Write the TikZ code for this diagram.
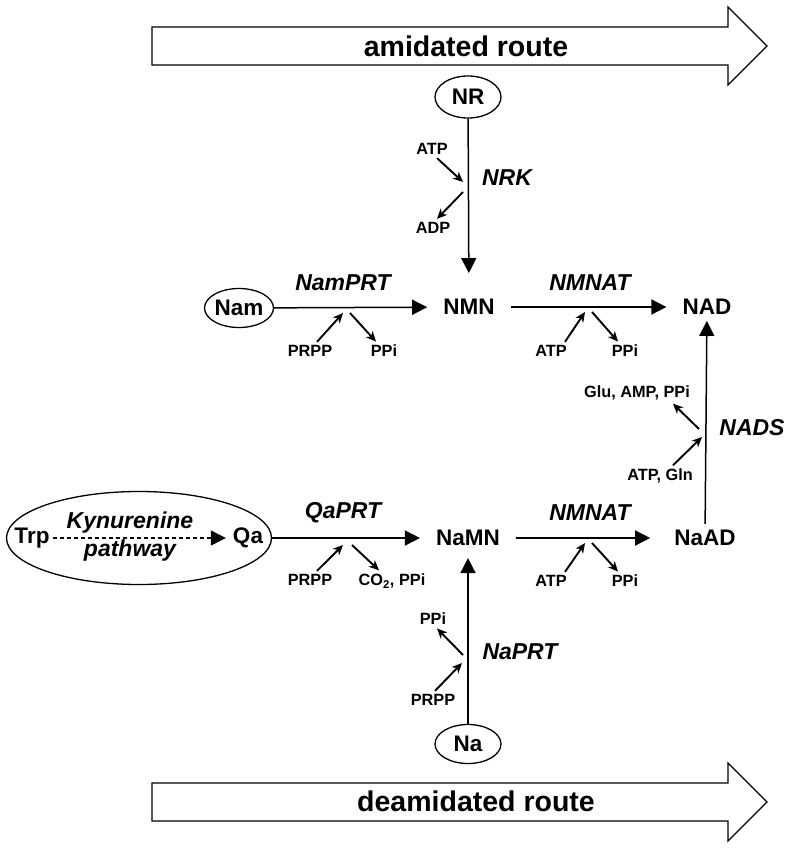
\documentclass[tikz,border=0pt]{standalone}
\usepackage{fontspec}
\setmainfont{Liberation Sans}
\usetikzlibrary{arrows.meta}
\usetikzlibrary{shapes.geometric}

\tikzset{
  metab/.style={font=\fontsize{22.5}{24}\selectfont\bfseries, inner xsep=16pt, inner ysep=6pt},
  enzyme/.style={font=\fontsize{23}{25}\selectfont\bfseries\itshape, inner sep=0pt},
  sidelabel/.style={font=\fontsize{16.3}{18}\selectfont\bfseries},
  pool/.style={ellipse, draw, line width=1.3pt, minimum width=66pt, minimum height=39pt, inner sep=0pt,
    font=\fontsize{22.5}{24}\selectfont\bfseries},
  mainarrow/.style={line width=1.5pt, -{Triangle[length=15pt,width=15pt]}},
  sidearrow/.style={line width=1.9pt, -{Stealth[length=10pt,width=9pt,inset=3pt]}},
  routebox/.style={draw, line width=1.3pt, fill=white},
  routetext/.style={font=\fontsize{28.5}{30}\selectfont\bfseries}
}

\begin{document}
\begin{tikzpicture}[x=1pt,y=-1pt]

\useasboundingbox (0,0) rectangle (792,848);

% route arrows
\draw[routebox] (152,27) -- (728,27) -- (728,7) -- (767,46) -- (728,85) -- (728,65) -- (152,65) -- cycle;
\node[routetext] (amid) at (466,46) {amidated route};

\draw[routebox] (152,783) -- (728,783) -- (728,763) -- (767,802) -- (728,841) -- (728,821) -- (152,821) -- cycle;
\node[routetext] (deamid) at (476,801) {deamidated route};

% metabolites
\node[pool, minimum height=42pt] (NR) at (468,97) {NR};
\node[pool] (Nam) at (239,308) {Nam};
\node[metab] (NMN) at (469,307) {NMN};
\node[metab] (NAD) at (707,307) {NAD};
\node[metab] (NaMN) at (468,538) {NaMN};
\node[metab] (NaAD) at (705,538) {NaAD};
\node[pool] (Na) at (468,744) {Na};

% kynurenine pathway
\node[ellipse, draw, line width=1.3pt, minimum width=265pt, minimum height=93pt] (kyn) at (139,538) {};
\node[font=\fontsize{22.5}{24}\selectfont\bfseries, inner sep=3pt] (Trp) at (32,538) {Trp};
\node[font=\fontsize{22.5}{24}\selectfont\bfseries, inner sep=7pt] (Qa) at (248,538) {Qa};
\node[enzyme, anchor=base] (kynA) at (130,528) {Kynurenine};
\node[enzyme, anchor=base] (kynB) at (130,556) {pathway};
\draw[line width=1.2pt, dash pattern=on 4pt off 3pt, -{Triangle[length=15pt,width=15pt]}] (Trp) -- (Qa);

% main reactions
\draw[mainarrow, shorten >=20pt] (NR) -- (NMN);
\draw[mainarrow] (Nam) -- (NMN);
\draw[mainarrow] (NMN) -- (NAD);
\draw[mainarrow] (kyn) -- (NaMN);
\draw[mainarrow, shorten >=8pt] (NaMN) -- (NaAD);
\draw[mainarrow] (NaAD) -- (NAD);
\draw[mainarrow, shorten >=6pt] (Na) -- (NaMN);

% enzymes
\node[enzyme] (NRK) at (507,178) {NRK};
\node[enzyme] (NamPRT) at (343,283) {NamPRT};
\node[enzyme] (NMNAT1) at (590,283) {NMNAT};
\node[enzyme] (QaPRT) at (343,513) {QaPRT};
\node[enzyme] (NMNAT2) at (590,513) {NMNAT};
\node[enzyme] (NADS) at (752,428) {NADS};
\node[enzyme] (NaPRT) at (520,652) {NaPRT};

% NRK
\coordinate (nrkin) at (463,182);
\coordinate (nrkout) at (463,192);
\node[sidelabel] (nrkATP) at (432,149) {ATP};
\node[sidelabel] (nrkADP) at (433,228) {ADP};
\draw[sidearrow] ([xshift=5pt]nrkATP.south) -- (nrkin);
\draw[sidearrow] (nrkout) -- ([xshift=4pt]nrkADP.north);

% NamPRT
\coordinate (namin) at (343,313);
\coordinate (namout) at (350,313);
\node[sidelabel] (namPRPP) at (310,351) {PRPP};
\node[sidelabel] (namPPi) at (384,351) {PPi};
\draw[sidearrow] ([xshift=7pt]namPRPP.north) -- (namin);
\draw[sidearrow] (namout) -- ([xshift=-8pt]namPPi.north);

% NMNAT (amidated)
\coordinate (nmn1in) at (585,312);
\coordinate (nmn1out) at (592,312);
\node[sidelabel] (nmn1ATP) at (551,351) {ATP};
\node[sidelabel] (nmn1PPi) at (625,351) {PPi};
\draw[sidearrow] ([xshift=14pt]nmn1ATP.north) -- (nmn1in);
\draw[sidearrow] (nmn1out) -- ([xshift=-7pt]nmn1PPi.north);

% QaPRT
\coordinate (qain) at (343,545);
\coordinate (qaout) at (352,545);
\node[sidelabel] (qaPRPP) at (310,580) {PRPP};
\node[sidelabel] (qaCO) at (392,581) {CO\textsubscript{2}, PPi};
\draw[sidearrow] ([xshift=7pt]qaPRPP.north) -- (qain);
\draw[sidearrow] (qaout) -- ([xshift=-13pt]qaCO.north);

% NMNAT (deamidated)
\coordinate (nmn2in) at (585,543);
\coordinate (nmn2out) at (592,543);
\node[sidelabel] (nmn2ATP) at (551,581) {ATP};
\node[sidelabel] (nmn2PPi) at (625,581) {PPi};
\draw[sidearrow] ([xshift=14pt]nmn2ATP.north) -- (nmn2in);
\draw[sidearrow] (nmn2out) -- ([xshift=-7pt]nmn2PPi.north);

% NADS
\coordinate (nadsin) at (702,437);
\coordinate (nadsout) at (699,429);
\node[sidelabel] (nadsGlu) at (637,393) {Glu, AMP, PPi};
\node[sidelabel] (nadsATP) at (660,476) {ATP, Gln};
\draw[sidearrow] ([xshift=13pt]nadsATP.north) -- (nadsin);
\draw[sidearrow] (nadsout) -- ([xshift=36pt]nadsGlu.south);

% NaPRT
\coordinate (nain) at (462,663);
\coordinate (naout) at (463,655);
\node[sidelabel] (naPRPP) at (433,700) {PRPP};
\node[sidelabel] (naPPi) at (433,619) {PPi};
\draw[sidearrow] ([xshift=2pt]naPRPP.north) -- (nain);
\draw[sidearrow] (naout) -- ([xshift=4pt]naPPi.south);

\end{tikzpicture}
\end{document}
